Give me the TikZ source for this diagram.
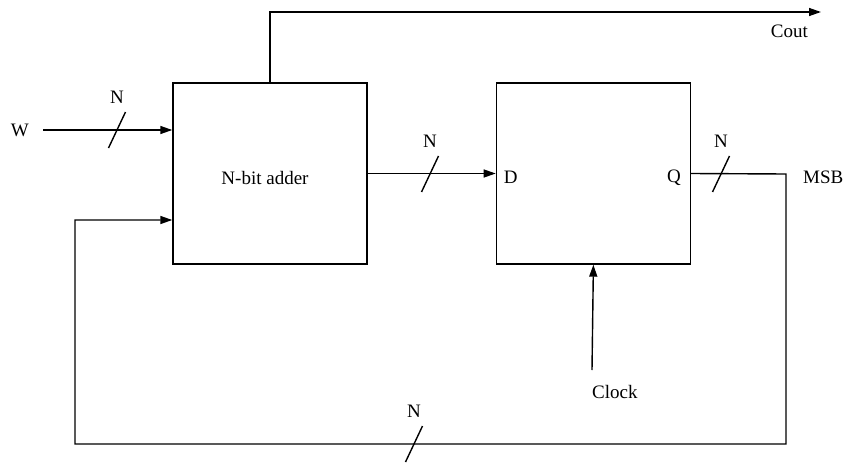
\documentclass[tikz,border=0pt]{standalone}
\usepackage{fontspec}
\setmainfont{Liberation Serif}
\usetikzlibrary{positioning,arrows.meta}

\begin{document}
\begin{tikzpicture}[
    x=1pt, y=-1pt,
    block/.style={
        rectangle,
        draw,
        line width=1.4pt,
        minimum width=194pt,
        minimum height=181pt
    },
    lbl/.style={inner sep=0pt, font=\fontsize{19}{23}\selectfont},
    wire/.style={line width=1.4pt},
    arrow/.style={
        -{Triangle[length=12pt,width=8pt]},
        line width=1.4pt
    },
    bus/.pic={
        \draw[wire] (-8.5,18) -- (8.5,-18);
        \node[lbl] (-n) at (0,-33) {N};
    }
]

\useasboundingbox (0,0) rectangle (846,463);

%% ===== BLOCKS =====
\node[block] (adder) at (270,173.5) {};
\node[block, right=128pt of adder] (reg) {};

\node[lbl] (addlbl) at ([xshift=-5pt,yshift=-4pt]adder.center) {N-bit adder};
\node[lbl, anchor=west] (dlbl) at ([xshift=8pt,yshift=-4pt]reg.west) {D};
\node[lbl, anchor=east] (qlbl) at ([xshift=-10pt,yshift=-4pt]reg.east) {Q};

%% ===== TERMINALS =====
\coordinate (win) at (43,130);
\coordinate (fbin) at (173,220);
\coordinate (cout) at (821,12);
\coordinate (msb) at (786,174);
\coordinate (fbl) at (75,444);
\coordinate (clk) at (592,370);

\node[lbl, left=14pt of win] (wlbl) {W};
\node[lbl, below left=13pt and 13pt of cout] (coutlbl) {Cout};
\node[lbl, right=17pt of msb, yshift=-3pt] (msblbl) {MSB};
\node[lbl, below right=15pt and 0pt of clk] (clklbl) {Clock};

%% ===== CONNECTIONS =====
\draw[arrow] (win) -- (adder.west |- win);
\draw[arrow] (adder.north) |- (cout);
\draw[arrow] (adder.east) -- (reg.west);
\draw[arrow] (clk) -- (reg.south);
\draw[arrow] (reg.east) -- (msb) |- (fbl) |- (adder.west |- fbin);

%% bus width marks
\pic (bw) at (117,130) {bus};
\pic (bd) at (430,174) {bus};
\pic (bq) at (721,174) {bus};
\pic (bf) at (414,444) {bus};

\end{tikzpicture}
\end{document}
